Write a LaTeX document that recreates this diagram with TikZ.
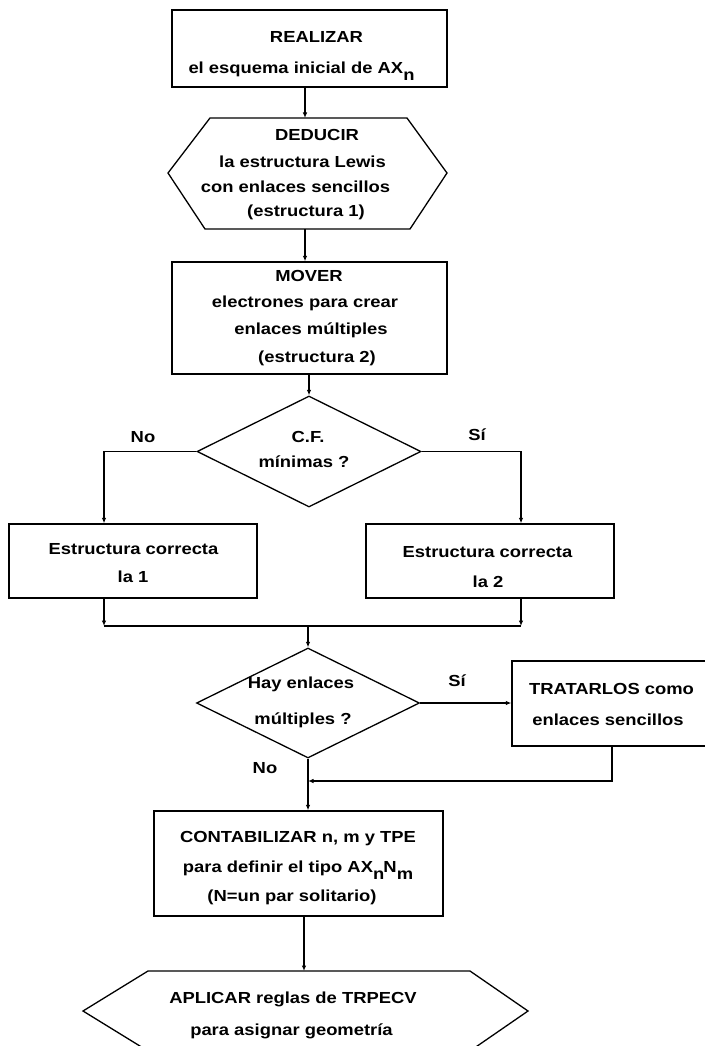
\documentclass[tikz,border=0pt]{standalone}
\usepackage{fontspec}
\setmainfont{Liberation Sans}[FakeStretch=1.15]
\usetikzlibrary{arrows.meta,shapes.geometric,calc}
\tikzset{
  box/.style={draw, rectangle, inner sep=0pt},
  dia/.style={draw, diamond, inner sep=0pt},
  txt/.style={anchor=base, inner sep=0pt, font=\fontsize{16}{19}\selectfont\bfseries},
  arr/.style={-{Latex[length=5.5pt,width=4.5pt]}},
}
\newcommand{\lowsub}[1]{\raisebox{-0.42em}{#1}}
\begin{document}
\begin{tikzpicture}[x=1pt,y=-1pt,line width=1.3pt]
\useasboundingbox (0,0) rectangle (704,1046);

% ---- shapes ----
\node[box, minimum width=275, minimum height=77] (b1) at (309.5,48.5) {};
\draw (210,118) -- (407,118) -- (447,173) -- (410,229) -- (205,229) -- (168,173) -- cycle;
\coordinate (h1t) at (305,118);
\coordinate (h1b) at (305,229);
\node[box, minimum width=275, minimum height=112] (b3) at (309.5,318) {};
\node[dia, minimum width=224, minimum height=111] (d1) at (309,451.5) {};
\node[box, minimum width=248, minimum height=74] (b4) at (133,561) {};
\node[box, minimum width=248, minimum height=74] (b5) at (490,561) {};
\node[dia, minimum width=223, minimum height=110] (d2) at (308,703) {};
\node[box, minimum width=200, minimum height=85] (b6) at (612,703.5) {};
\node[box, minimum width=289, minimum height=105] (b7) at (298.5,863.5) {};
\draw (148,1051) -- (83,1011) -- (148,971) -- (470,971) -- (528,1011) -- (470,1051);
\coordinate (h2t) at (304,971);

% ---- helper coordinates ----
\coordinate (colL) at (104,0);
\coordinate (colR) at (521,0);
\coordinate (jn) at (308,626);
\coordinate (ret) at (308,781);

% ---- connectors ----
\draw[arr] (b1.south -| h1t) -- (h1t);
\draw[arr] (h1b) -- (h1b |- b3.north);
\draw[arr] (b3.south -| d1.north) -- (d1.north);
\draw[arr] (d1.west) -| (colL |- b4.north);
\draw[arr] (d1.east) -| (colR |- b5.north);
\draw[arr] (colL |- b4.south) -- (colL |- jn);
\draw[arr] (colR |- b5.south) -- (colR |- jn);
\draw (colL |- jn) -- (colR |- jn);
\draw[arr] (jn) -- (d2.north);
\draw[arr] (d2.east) -- (d2.east -| b6.west);
\draw[arr] (b6.south) |- (ret);
\draw[arr] (d2.south) -- (d2.south |- b7.north);
\draw[arr] (b7.south -| h2t) -- (h2t);

% ---- texts ----
\node[txt] (t1a) at (316.5,42.5) {REALIZAR};
\node[txt] (t1b) at (301.5,74) {el esquema inicial de AX\lowsub{n}};

\node[txt] (t2a) at (317,140.5) {DEDUCIR};
\node[txt] (t2b) at (302.5,167.5) {la estructura Lewis};
\node[txt] (t2c) at (295.5,192.5) {con enlaces sencillos};
\node[txt] (t2d) at (306,216) {(estructura 1)};

\node[txt] (t3a) at (309,281.5) {MOVER};
\node[txt] (t3b) at (305,307.5) {electrones para crear};
\node[txt] (t3c) at (311,334.5) {enlaces múltiples};
\node[txt] (t3d) at (317,362) {(estructura 2)};

\node[txt] (t4a) at (308,442.5) {C.F.};
\node[txt] (t4b) at (304,467.5) {mínimas ?};
\node[txt] (lno1) at (143,442.5) {No};
\node[txt] (lsi1) at (477,440.5) {Sí};

\node[txt] (t5a) at (133.5,554.5) {Estructura correcta};
\node[txt] (t5b) at (133,582.5) {la 1};
\node[txt] (t6a) at (487.5,557.5) {Estructura correcta};
\node[txt] (t6b) at (488,587.5) {la 2};

\node[txt] (t7a) at (301,688.5) {Hay enlaces};
\node[txt] (t7b) at (303,724.5) {múltiples ?};
\node[txt] (lsi2) at (457,686.5) {Sí};
\node[txt] (lno2) at (265,773.5) {No};

\node[txt] (t8a) at (611.5,694.5) {TRATARLOS como};
\node[txt] (t8b) at (608,725.5) {enlaces sencillos};

\node[txt] (t9a) at (298,842.5) {CONTABILIZAR n, m y TPE};
\node[txt] (t9b) at (298,872.5) {para definir el tipo AX\lowsub{n}\kern-0.05em N\lowsub{m}};
\node[txt] (t9c) at (292,901) {(N=un par solitario)};

\node[txt] (t10a) at (293,1003) {APLICAR reglas de TRPECV};
\node[txt] (t10b) at (291.5,1035.5) {para asignar geometría};
\end{tikzpicture}
\end{document}
